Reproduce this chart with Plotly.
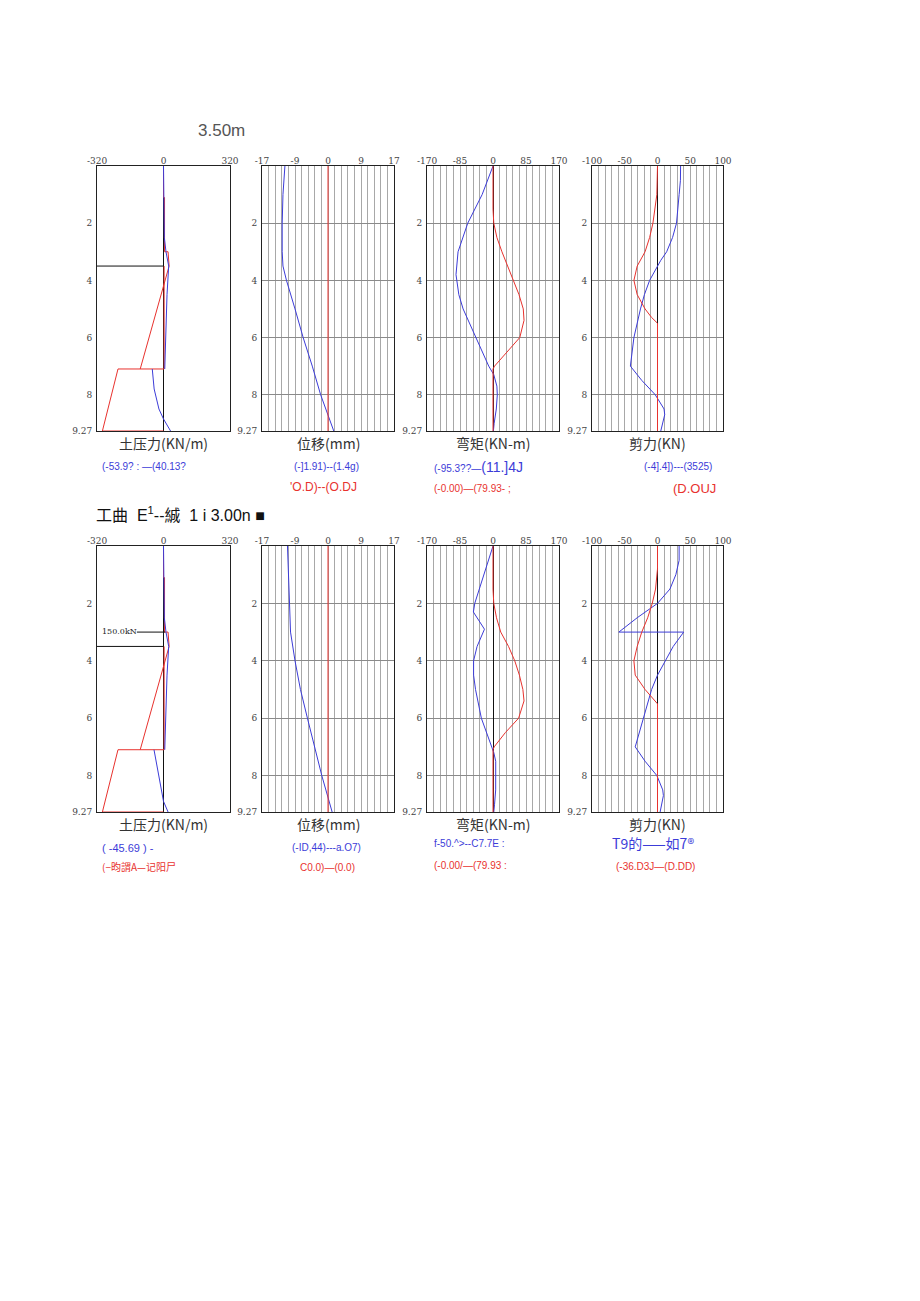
import plotly.graph_objects as go

W, H = 920, 1301

# ---- data (depth in m, 0 at top) ----
depth_ticks = [2, 4, 6, 8, 9.27]
depth_labels = ["2", "4", "6", "8", "9.27"]

soil_ticks = [-320, 0, 320]
disp_ticks = [-17, -8.5, 0, 8.5, 17]
disp_labels = ["-17", "-9", "0", "9", "17"]
mom_ticks = [-170, -85, 0, 85, 170]
shear_ticks = [-100, -50, 0, 50, 100]

# row 1 : excavation 3.50m
soil_red_d1 = [0, 1.1, 1.1, 3.0, 3.0, 3.5, 7.1, None, 3.5, 7.1, 7.1, 9.27, 9.27]
soil_red_x1 = [0, 0, 5, 5, 22, 27, -112, None, 3, 3, -219, -294, 0]
soil_blue_d1 = [0, 1.1, 2.5, 3.0, 3.5, 4.5, 6.0, 7.1, None, 7.1, 7.8, 8.5, 8.85, 9.27]
soil_blue_x1 = [0, 2, 4, 12, 25, 17, 10, 6, None, -54, -45, -22, 0, 34]

disp_d1 = [0, 1, 2, 3, 3.5, 4, 5, 6, 7, 8, 9.27]
disp_blue1 = [-11.1, -11.6, -11.8, -11.8, -11.6, -10.7, -8.5, -6.4, -4.05, -1.9, 1.49]
disp_red1 = [0] * 11

mom_blue_d1 = [0, 1, 2, 3, 3.8, 4.5, 5, 6, 6.5, 7, 7.3, 7.7, 8, 8.5, 9, 9.27]
mom_blue1 = [0, -28, -65, -90, -95.3, -88, -77, -45, -28, -11, 2, 10, 11.1, 8.5, 3, 1]
mom_red_d1 = [0, 1.5, 2, 2.5, 3, 3.5, 4, 4.5, 5, 5.4, 6, 6.5, 7, 7.1, 9.27]
mom_red1 = [0, 0, 2, 10, 23, 37, 53, 67, 78, 79.93, 69, 36, 4, 0, 0]

shear_blue_d1 = [0, 0.5, 1, 2, 2.5, 3, 3.3, 3.6, 4, 4.5, 5, 6, 6.5, 7, 7.5, 8, 8.5, 8.7, 9.27]
shear_blue1 = [35.25, 35, 33, 29, 23, 14, 5, -2, -12, -20, -26, -36, -39, -41.4, -24, -3.5, 10, 11, 5]
shear_red_d1 = [0, 0.6, 1, 2, 2.5, 3, 3.5, 4, 4.5, 5, 5.3, 5.5, 9.27]
shear_red1 = [0, 0, -1, -7, -12, -19, -31, -36, -31, -19, -9, 0, 0]

# row 2 : strut at 3.00m, excavation 3.50m
soil_red_d2 = soil_red_d1
soil_red_x2 = soil_red_x1
soil_blue_d2 = [0, 1.1, 2.5, 3.0, 3.5, 4.5, 6.0, 7.1, None, 7.1, 7.4, 8.2, 8.9, 9.27]
soil_blue_x2 = [0, 2, 4, 12, 25, 17, 10, 6, None, -45.69, -38, -20, 0, 22]

disp_d2 = [0, 1, 2, 3, 4, 5, 6, 7, 8, 9.27]
disp_blue2 = [-10.44, -10.2, -10.0, -9.65, -8.5, -7.1, -5.3, -3.4, -1.6, 1.07]
disp_red2 = [0] * 10

mom_blue_d2 = [0, 1, 2, 2.3, 2.9, 3.5, 4, 4.5, 5, 6, 6.5, 7, 7.2, 7.5, 8, 8.5, 9, 9.27]
mom_blue2 = [0, -24, -47, -50.5, -22, -41, -50, -50, -45, -30, -17, -3.4, 2, 7, 7.7, 6.9, 4, 2]
mom_red_d2 = [0, 1.5, 2, 2.5, 3, 3.5, 4, 4.5, 5, 5.4, 6, 6.5, 7, 7.1, 9.27]
mom_red2 = [0, 0, 2, 9, 20, 40, 56, 68, 77, 79.93, 66, 32, 3, 0, 0]

shear_blue_d2 = [0, 0.5, 1, 1.5, 2, 2.5, 3.0, 3.0, 3.5, 4, 4.5, 5, 6, 6.5, 7, 7.5, 8, 8.5, 8.7, 9.27]
shear_blue2 = [33, 33, 28, 19, 0, -31, -59, 40, 24, 12, 0, -9, -21, -27, -34, -19, -1, 8, 9, 4]
shear_red_d2 = [0, 0.8, 1.5, 2, 2.5, 3, 3.5, 4, 4.5, 5, 5.5, 9.27]
shear_red2 = [0, 0, -3, -8, -15, -24, -31, -36.03, -34, -19, 0, 0]

# ---- layout helpers (page coords of the reference, body margin 8px) ----
cols = [(97, 230), (262, 394), (427, 559), (592, 723)]
rows = [(166, 431), (546, 812)]
BLUE = "#3c3cd8"
RED = "#e8322e"
OFF = 8


def px(x):
    return (x - OFF) / W


def py(y):
    return 1 - (y - OFF) / H


fig = go.Figure()

panels = []
for r in range(2):
    panels += [
        (r, 0, [-320, 320], soil_ticks, [str(v) for v in soil_ticks], None),
        (r, 1, [-17, 17], disp_ticks, disp_labels, 1.7),
        (r, 2, [-170, 170], mom_ticks, [str(v) for v in mom_ticks], 17),
        (r, 3, [-100, 100], shear_ticks, [str(v) for v in shear_ticks], 10),
    ]

series = [
    [(soil_red_x1, soil_red_d1, RED), (soil_blue_x1, soil_blue_d1, BLUE)],
    [(disp_blue1, disp_d1, BLUE), (disp_red1, disp_d1, RED)],
    [(mom_blue1, mom_blue_d1, BLUE), (mom_red1, mom_red_d1, RED)],
    [(shear_blue1, shear_blue_d1, BLUE), (shear_red1, shear_red_d1, RED)],
    [(soil_red_x2, soil_red_d2, RED), (soil_blue_x2, soil_blue_d2, BLUE)],
    [(disp_blue2, disp_d2, BLUE), (disp_red2, disp_d2, RED)],
    [(mom_blue2, mom_blue_d2, BLUE), (mom_red2, mom_red_d2, RED)],
    [(shear_blue2, shear_blue_d2, BLUE), (shear_red2, shear_red_d2, RED)],
]

tick_font = dict(family="DejaVu Serif", size=9, color="#444")

for i, (r, c, rng, tv, tt, minor) in enumerate(panels):
    n = i + 1
    xa = "xaxis" if n == 1 else f"xaxis{n}"
    ya = "yaxis" if n == 1 else f"yaxis{n}"
    x0, x1 = cols[c]
    y0, y1 = rows[r]
    grid = minor is not None
    xcfg = dict(
        domain=[px(x0), px(x1)], range=rng, side="top", tickvals=tv, ticktext=tt,
        tickfont=tick_font, ticks="", ticklabelstandoff=-3, automargin=False,
        showline=True, mirror=True, linecolor="#222", linewidth=1,
        showgrid=grid, gridcolor="#a8a8a8", gridwidth=1,
        zeroline=(c != 1), zerolinecolor="#111", zerolinewidth=1,
        anchor="y" if n == 1 else f"y{n}", fixedrange=True,
    )
    if grid:
        xcfg["minor"] = dict(tick0=rng[0], dtick=minor, showgrid=True,
                             gridcolor="#a8a8a8", gridwidth=1)
    ycfg = dict(
        domain=[py(y1), py(y0)], range=[9.27, 0], tickvals=depth_ticks,
        ticktext=depth_labels, tickfont=tick_font, ticks="", ticklabelstandoff=2,
        automargin=False,
        showline=True, mirror=True, linecolor="#222", linewidth=1,
        showgrid=grid, gridcolor="#8a8a8a", gridwidth=1, zeroline=False,
        anchor="x" if n == 1 else f"x{n}", fixedrange=True,
    )
    fig.update_layout({xa: xcfg, ya: ycfg})
    for xs, ds, col in series[i]:
        fig.add_trace(go.Scatter(
            x=xs, y=ds, mode="lines", line=dict(color=col, width=1),
            xaxis="x" if n == 1 else f"x{n}", yaxis="y" if n == 1 else f"y{n}",
            showlegend=False, hoverinfo="skip", connectgaps=False,
        ))

# black construction lines on the soil pressure panels
for r, n in [(0, 1), (1, 5)]:
    xr = "x" if n == 1 else f"x{n}"
    yr = "y" if n == 1 else f"y{n}"
    fig.add_shape(type="line", xref=xr, yref=yr, x0=-320, x1=0, y0=3.5, y1=3.5,
                  line=dict(color="#111", width=1))
fig.add_shape(type="line", xref="x5", yref="y5", x0=-128, x1=8, y0=3.0, y1=3.0,
              line=dict(color="#111", width=1))

ann = []


def text(x, y, s, size=10, color="#222", family="Liberation Sans", anchor="left"):
    ann.append(dict(x=px(x), y=py(y), xref="paper", yref="paper", text=s,
                    showarrow=False, xanchor=anchor, yanchor="middle",
                    font=dict(size=size, color=color, family=family)))


text(196, 131, "3.50m", size=17, color="#555", family="Liberation Sans")
text(94, 514, "工曲  E<sup>1</sup>--絾  1 i 3.00n ■", size=16, color="#111",
     family="Liberation Sans, Noto Sans CJK SC")
text(100, 631, "150.0kN", size=8, color="#222", family="DejaVu Serif")

titles = ["土压力(KN/m)", "位移(mm)", "弯矩(KN-m)", "剪力(KN)"]
for r, yy in [(0, 443), (1, 824)]:
    for c, t in enumerate(titles):
        text((cols[c][0] + cols[c][1]) / 2, yy, t, size=14, color="#333",
             family="Noto Sans CJK SC", anchor="center")

# value range notes below panels
text(100, 467, "(-53.9? : —(40.13?", size=10, color=BLUE)
text(292, 467, "(-]1.91)--(1.4g)", size=10, color=BLUE)
text(288, 487, "'O.D)--(O.DJ", size=12, color=RED)
text(432, 467, "(-95.3??—<span style='font-size:14px'>(11.]4J</span>", size=10, color=BLUE)
text(432, 489, "(-0.00)—(79.93- ;", size=10, color=RED)
text(642, 467, "(-4].4])---(3525)", size=10, color=BLUE)
text(671, 488, "(D.OUJ", size=13, color=RED)

text(100, 848, "( -45.69 ) -", size=11, color=BLUE)
text(100, 866, "(−昀謂A—记阳尸", size=10, color=RED, family="Noto Sans CJK SC")
text(290, 847, "(-ID,44)---a.O7)", size=10, color=BLUE)
text(298, 867, "C0.0)—(0.0)", size=10, color=RED)
text(432, 843, "f-50.^>--C7.7E :", size=10, color=BLUE)
text(432, 865, "(-0.00/—(79.93 :", size=10, color=RED)
text(610, 843, "T9的——如7®", size=14, color=BLUE, family="Noto Sans CJK SC")
text(614, 866, "(-36.D3J—(D.DD)", size=10, color=RED)

fig.update_layout(
    width=W, height=H, margin=dict(l=0, r=0, t=0, b=0),
    paper_bgcolor="white", plot_bgcolor="white", annotations=ann,
    showlegend=False,
)

fig.write_html("out.html")
